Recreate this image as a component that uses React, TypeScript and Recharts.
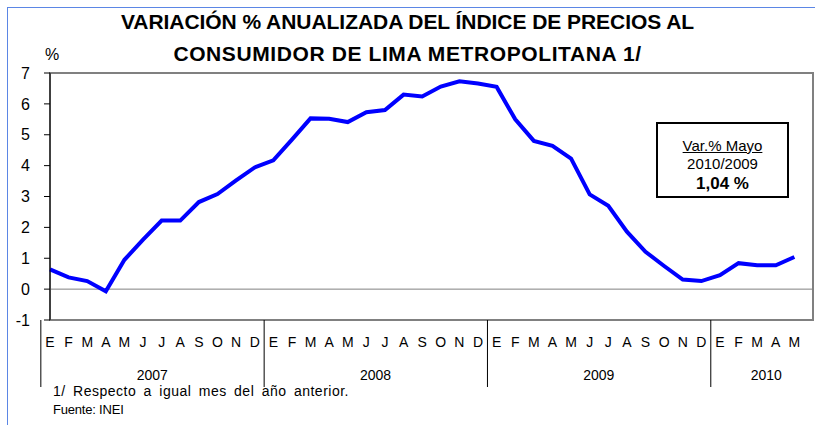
import { Line, LineChart, ReferenceArea, ReferenceLine, XAxis, YAxis } from 'recharts';

// monthly labels (Spanish initials), Jan 2007 .. Jun 2010
const monthLetters = ['E', 'F', 'M', 'A', 'M', 'J', 'J', 'A', 'S', 'O', 'N', 'D'];
const years = ['2007', '2008', '2009', '2010'];
const inflation: (number | null)[] = [
  0.64, 0.38, 0.26, -0.07, 0.95, 1.6, 2.22, 2.22, 2.82, 3.08, 3.52, 3.94,
  4.17, 4.84, 5.53, 5.52, 5.41, 5.73, 5.8, 6.3, 6.24, 6.56, 6.73, 6.66,
  6.55, 5.5, 4.8, 4.64, 4.23, 3.07, 2.7, 1.86, 1.21, 0.75, 0.31, 0.26,
  0.45, 0.84, 0.77, 0.77, 1.04, null,
];
const yTicks = [-1, 0, 1, 2, 3, 4, 5, 6, 7];

const data = inflation.map((v, i) => ({
  key: `${years[Math.floor(i / 12)]}-${i % 12}`,
  month: i < inflation.length - 1 ? monthLetters[i % 12] : '',
  year: years[Math.floor(i / 12)],
  value: v,
}));

const W = 815;
const H = 425;
const PLOT_LEFT = 43;
const PLOT_RIGHT = 2;
const BAND = (W - PLOT_LEFT - PLOT_RIGHT) / data.length;
const FONT = 'Arial, "Liberation Sans", sans-serif';

const MonthTick = (props: any) => {
  const { x, y, payload } = props;
  const i: number = props.index ?? payload.index;
  const d = data[i];
  const half = BAND / 2;
  const m = i % 12;
  const lastIdx = data.length - 1;
  const yearCenter = years.indexOf(d.year) === years.length - 1 ? m === 2 : m === 5;
  return (
    <g>
      <text x={x} y={y + 27} textAnchor="middle" fontSize={14} fill="#000" fontFamily={FONT}>
        {d.month}
      </text>
      {m === 0 && <line x1={x - half} x2={x - half} y1={y} y2={y + 67} stroke="#000" strokeWidth={1} />}
      {i === lastIdx && <line x1={x + half} x2={x + half} y1={y} y2={y + 67} stroke="#808080" strokeWidth={2} />}
      {yearCenter && (
        <text x={x + half} y={y + 60} textAnchor="middle" fontSize={14} fill="#000" fontFamily={FONT}>
          {d.year}
        </text>
      )}
    </g>
  );
};

export default function App() {
  return (
    <div style={{ position: 'absolute', left: 0, top: 0, width: W, height: H, background: '#fff', fontFamily: FONT }}>
      <div style={{ position: 'absolute', left: 7, top: 7, width: W, height: H, borderLeft: '1px solid #5b86e5', borderTop: '1px solid #5b86e5' }} />
      <div style={{ position: 'absolute', left: 0, top: 6, width: 815, textAlign: 'center', fontWeight: 'bold', fontSize: 21, lineHeight: '32px' }}>
        <div style={{ letterSpacing: -0.05 }}>VARIACIÓN % ANUALIZADA DEL ÍNDICE DE PRECIOS AL</div>
        <div style={{ letterSpacing: 0.6 }}>CONSUMIDOR DE LIMA METROPOLITANA 1/</div>
      </div>
      <div style={{ position: 'absolute', left: 45, top: 46, fontSize: 16 }}>%</div>
      <LineChart width={W} height={H} data={data} margin={{ top: 73, right: PLOT_RIGHT, left: 7, bottom: 0 }}>
        <ReferenceArea y1={-1} y2={7} fill="none" stroke="#808080" strokeWidth={2} ifOverflow="visible" />
        <ReferenceLine y={0} stroke="#808080" strokeWidth={1} />
        <XAxis
          dataKey="key"
          interval={0}
          height={105}
          tickSize={0}
          tickMargin={0}
          axisLine={{ stroke: '#808080', strokeWidth: 2 }}
          tickLine={false}
          tick={<MonthTick />}
        />
        <YAxis
          width={PLOT_LEFT}
          domain={[-1, 7]}
          ticks={yTicks}
          interval={0}
          allowDataOverflow
          axisLine={{ stroke: '#000', strokeWidth: 1 }}
          tickLine={{ stroke: '#000' }}
          tickSize={6}
          tickMargin={14}
          tick={{ fontSize: 16, fill: '#000', fontFamily: FONT }}
        />
        <Line
          type="linear"
          dataKey="value"
          stroke="#0000ff"
          strokeWidth={4}
          dot={false}
          isAnimationActive={false}
        />
      </LineChart>
      <div style={{ position: 'absolute', left: 656, top: 122, width: 133, height: 76, border: '2px solid #000', textAlign: 'center', fontSize: 15, lineHeight: '18px', paddingTop: 13, boxSizing: 'border-box', background: '#fff' }}>
        <div style={{ textDecoration: 'underline' }}>Var.% Mayo</div>
        <div>2010/2009</div>
        <div style={{ fontWeight: 'bold', fontSize: 17, marginTop: 2 }}>1,04 %</div>
      </div>
      <div style={{ position: 'absolute', left: 53, top: 383, fontSize: 14, letterSpacing: 0.5, wordSpacing: 3, lineHeight: '16px' }}>
        1/ Respecto a igual mes del año anterior.
      </div>
      <div style={{ position: 'absolute', left: 53, top: 402, fontSize: 13, letterSpacing: -0.2, lineHeight: '16px' }}>
        Fuente: INEI
      </div>
    </div>
  );
}
